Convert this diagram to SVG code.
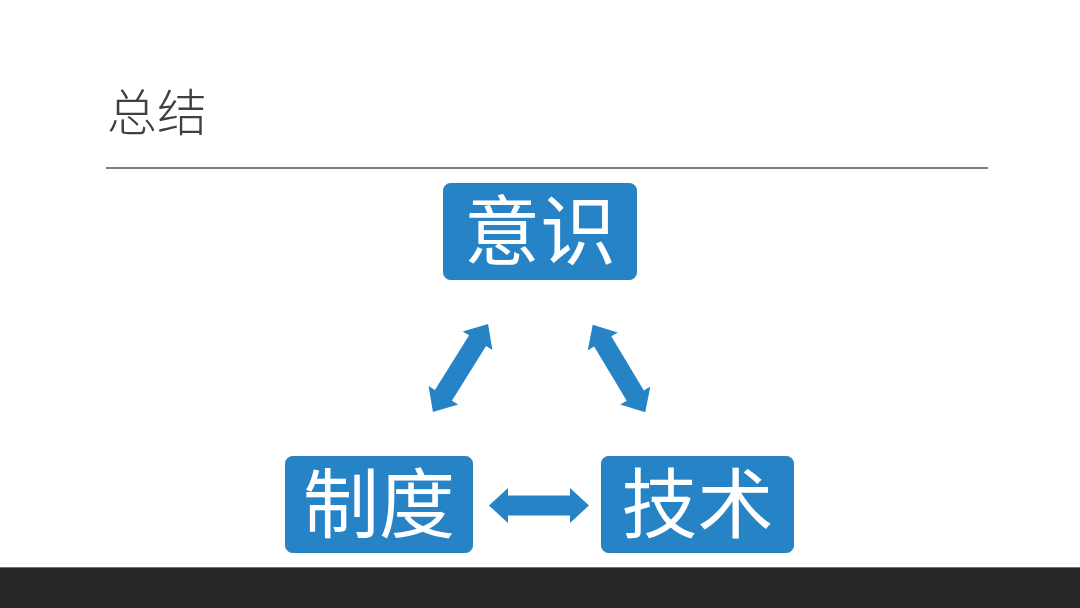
<svg xmlns="http://www.w3.org/2000/svg" width="1080" height="608" viewBox="0 0 1080 608">
  <defs>
    <style>
      .box { fill: #2683C6; stroke: #2a7fbe; stroke-width: 1; }
      .lbl { fill: #ffffff; font-family: "Noto Sans CJK SC", "Noto Sans", sans-serif; font-size: 76px; font-weight: 400; text-anchor: middle; }
      .arr { fill: #2683C6; }
      .title { fill: #404040; font-family: "Noto Sans CJK SC", "Noto Sans", sans-serif; font-size: 50px; font-weight: 300; }
    </style>
    <path id="dbl" d="M-50,0 L-31,-17.5 L-31,-10 L31,-10 L31,-17.5 L50,0 L31,17.5 L31,10 L-31,10 L-31,17.5 Z"/>
  </defs>
  <rect x="0" y="0" width="1080" height="608" fill="#ffffff"/>
  <g id="title">
    <text class="title" x="107" y="131">总结</text>
    <line x1="106" y1="168" x2="988" y2="168" stroke="#555555" stroke-width="1.5"/>
  </g>
  <g id="node-yishi">
    <rect class="box" x="443.5" y="183.5" width="193" height="96" rx="7"/>
    <text class="lbl" x="540" y="259">意识</text>
  </g>
  <g id="node-zhidu">
    <rect class="box" x="285.5" y="456.5" width="187" height="96" rx="7"/>
    <text class="lbl" x="379" y="532">制度</text>
  </g>
  <g id="node-jishu">
    <rect class="box" x="601.5" y="456.5" width="192" height="96" rx="7"/>
    <text class="lbl" x="697.5" y="532">技术</text>
  </g>
  <g id="connectors">
    <use href="#dbl" class="arr" transform="translate(539,505.5)"/>
    <use href="#dbl" class="arr" transform="translate(460.5,368) rotate(-58) scale(1.04,1)"/>
    <use href="#dbl" class="arr" transform="translate(619,368.5) rotate(59) scale(1.02,1)"/>
  </g>
  <g id="footer">
    <rect x="0" y="567" width="1080" height="41" fill="#262626"/>
    <line x1="0" y1="567.5" x2="1080" y2="567.5" stroke="#707070" stroke-width="1"/>
  </g>
</svg>
